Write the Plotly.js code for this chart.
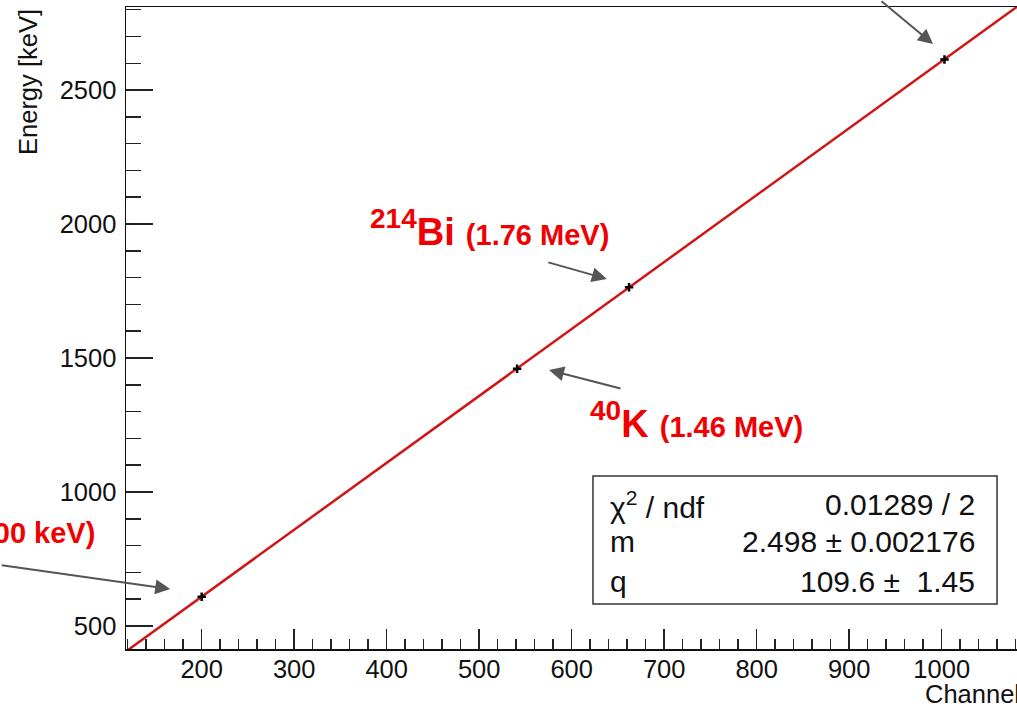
<!DOCTYPE html>
<html>
<head>
<meta charset="utf-8">
<script src="https://cdn.plot.ly/plotly-3.0.1.min.js"></script>
<style>
  html, body { margin: 0; padding: 0; background: #fff; overflow: hidden; }
  #chart { width: 1017px; height: 707px; }
</style>
</head>
<body>
<div id="chart"></div>
<script>
// ---- data ----
const channels = [200, 541, 662, 1003];
const energies = [609, 1460, 1764, 2614];
const fitChannels = [118, 1082];
const fitEnergies = [404.4, 2812.4];          // m*x + q with m=2.498, q=109.6
const statNames  = ['χ<sup>2</sup> / ndf', 'm', 'q'];
const statValues = ['0.01289 / 2', '2.498 ± 0.002176', '109.6 ±&nbsp;&nbsp;1.45'];
const xTitle = 'Channel';
const yTitle = 'Energy [keV]';

const FONT = '"Liberation Sans", Arial, Helvetica, sans-serif';
const RED = '#f00000';
const ARROW = '#555555';

const traces = [
  {
    x: fitChannels, y: fitEnergies, type: 'scatter', mode: 'lines',
    line: { color: '#cf1515', width: 2.5 }, hoverinfo: 'skip'
  },
  {
    x: channels, y: energies, type: 'scatter', mode: 'markers',
    marker: { symbol: 'cross-thin', size: 6, color: '#000', line: { color: '#000', width: 2.5 } }
  }
];

const statRowsY = [0.2243, 0.1667, 0.1059];
const annotations = [];
statNames.forEach((n, i) => {
  annotations.push({ xref: 'paper', yref: 'paper', x: 0.541, y: statRowsY[i], xanchor: 'left', yanchor: 'middle',
    text: n, showarrow: false, font: { family: FONT, size: 30, color: '#111' } });
  annotations.push({ xref: 'paper', yref: 'paper', x: 0.9555, y: statRowsY[i], xanchor: 'right', yanchor: 'middle',
    text: statValues[i], showarrow: false, font: { family: FONT, size: 30, color: '#111' } });
});

// axis titles (ROOT style: at axis ends)
annotations.push({ xref: 'paper', yref: 'paper', x: -0.11, y: 1.0, xanchor: 'center', yanchor: 'top',
  textangle: -90, text: yTitle, showarrow: false, font: { family: FONT, size: 25.5, color: '#111' } });
annotations.push({ xref: 'paper', yref: 'paper', x: 0.8945, y: -0.0701, xanchor: 'left', yanchor: 'middle',
  text: xTitle, showarrow: false, font: { family: FONT, size: 25.5, color: '#111' } });

// peak labels
const labFont = { family: FONT, size: 40, color: RED, weight: 'bold' };
annotations.push({ xref: 'paper', yref: 'paper', x: 0.2716, y: 0.6558, xanchor: 'left', yanchor: 'middle',
  text: '<sup>214</sup><span style="font-size:38px">Bi</span> <span style="font-size:29px">(1.76 MeV)</span>',
  showarrow: false, font: labFont });
annotations.push({ xref: 'paper', yref: 'paper', x: 0.5185, y: 0.3567, xanchor: 'left', yanchor: 'middle',
  text: '<sup>40</sup><span style="font-size:38px">K</span> <span style="font-size:29px">(1.46 MeV)</span>',
  showarrow: false, font: labFont });
annotations.push({ xref: 'paper', yref: 'paper', x: -0.0325, y: 0.1807, xanchor: 'right', yanchor: 'middle',
  text: '<span style="font-size:29px">(600 keV)</span>', showarrow: false, font: labFont });

// arrows
const arrowDefs = [
  { x: 166, y: 638, ax: -170, ay: -24 },
  { x: 638, y: 1795, ax: -60, ay: -17 },
  { x: 575.5, y: 1455.5, ax: 73, ay: 19 },
  { x: 990.6, y: 2672, ax: -53, ay: -44 }
];
arrowDefs.forEach(a => {
  annotations.push({ xref: 'x', yref: 'y', x: a.x, y: a.y, ax: a.ax, ay: a.ay, text: '',
    showarrow: true, arrowhead: 2, arrowsize: 1.5, arrowwidth: 2, arrowcolor: ARROW, standoff: 0 });
});

const layout = {
  width: 1017, height: 707,
  margin: { l: 126, r: 0, t: 7, b: 58, pad: 0 },
  paper_bgcolor: '#fff', plot_bgcolor: '#fff',
  showlegend: false,
  font: { family: FONT, size: 25.5, color: '#111' },
  xaxis: {
    range: [118.2, 1081.4], showgrid: false, zeroline: false,
    showline: true, linecolor: '#111', linewidth: 1.5, mirror: true,
    ticks: 'inside', ticklen: 20, tickwidth: 1.5, tickcolor: '#222',
    dtick: 100, tick0: 0, ticklabelstandoff: -3,
    minor: { dtick: 20, tick0: 0, ticks: 'inside', ticklen: 10, tickwidth: 1.5, tickcolor: '#222' },
    tickfont: { family: FONT, size: 25.5, color: '#111' }
  },
  yaxis: {
    range: [414, 2810], showgrid: false, zeroline: false,
    showline: true, linecolor: '#111', linewidth: 1.5, mirror: false,
    ticks: 'inside', ticklen: 27, tickwidth: 1.5, tickcolor: '#222',
    dtick: 500, tick0: 0, ticklabelstandoff: 3,
    minor: { dtick: 100, tick0: 0, ticks: 'inside', ticklen: 15, tickwidth: 1.5, tickcolor: '#222' },
    tickfont: { family: FONT, size: 25.5, color: '#111' }
  },
  shapes: [
    { type: 'rect', xref: 'paper', yref: 'paper', x0: 0.5241, x1: 0.9776, y0: 0.0701, y1: 0.2695,
      line: { color: '#333', width: 1.5 }, fillcolor: '#fff', layer: 'below' }
  ],
  annotations: annotations
};

Plotly.newPlot('chart', traces, layout, { displayModeBar: false, staticPlot: true });
</script>
</body>
</html>
